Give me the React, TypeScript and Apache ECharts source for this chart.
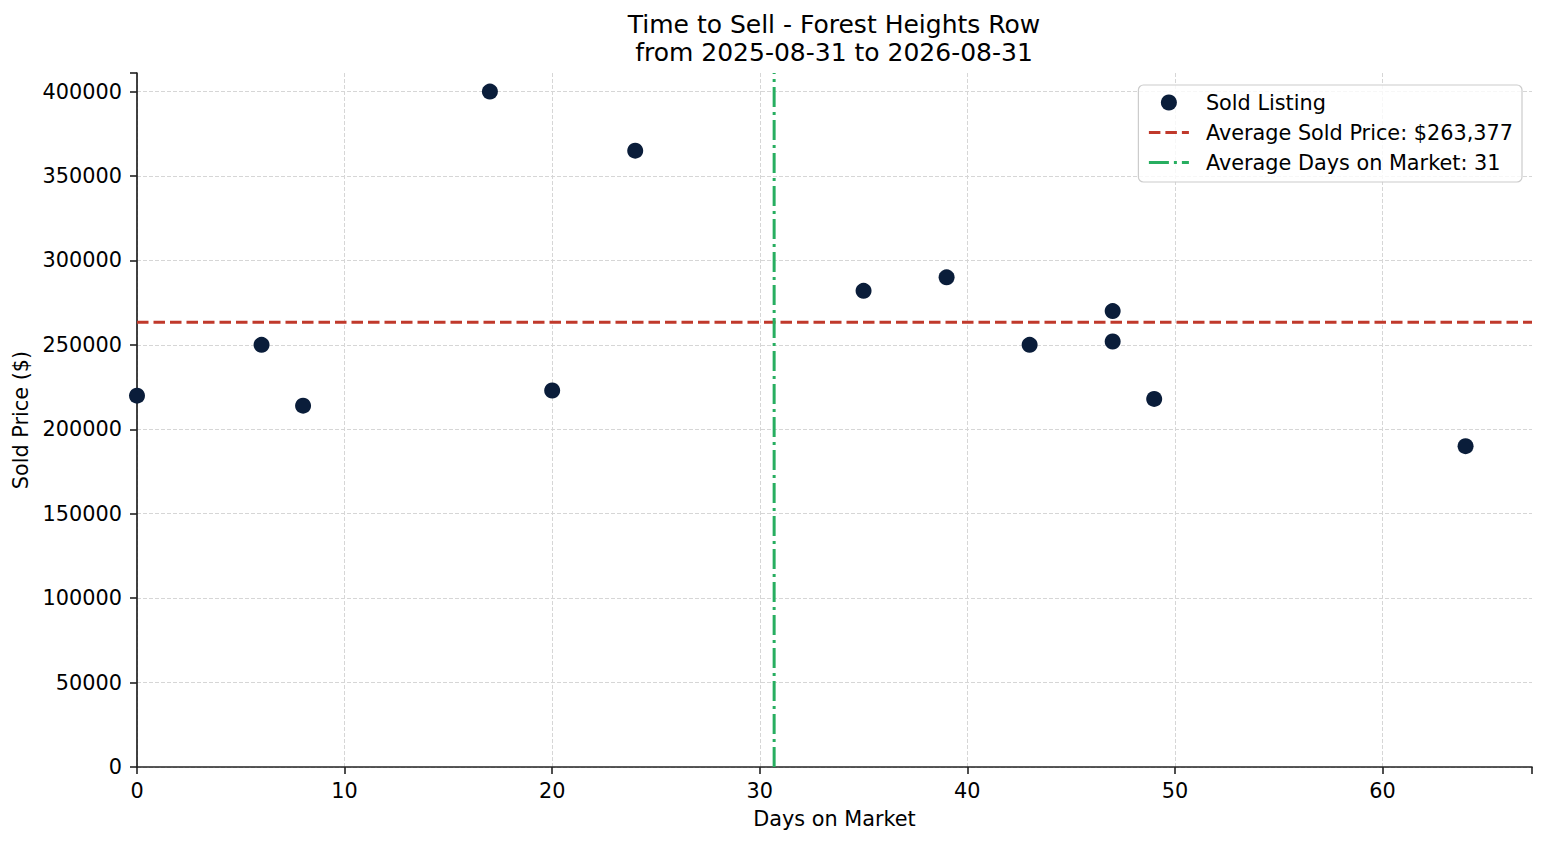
import React, { useEffect, useRef } from "react";
import * as echarts from "echarts";

// sold listings
const daysOnMarket = [0, 6, 8, 17, 20, 24, 35, 39, 43, 47, 47, 49, 64];
const soldPrices = [219900, 250000, 214000, 400000, 223000, 365000, 282000, 290000, 250000, 270000, 252000, 218000, 190000];

const xMax = 67.2;
const yMax = 411000;

const avgPrice = soldPrices.reduce((a, b) => a + b, 0) / soldPrices.length;
const avgDays = daysOnMarket.reduce((a, b) => a + b, 0) / daysOnMarket.length;

const FONT = "DejaVu Sans";
const FS = 20.8;

const soldName = "Sold Listing";
const priceName = `Average Sold Price: $${Math.round(avgPrice).toLocaleString("en-US")}`;
const daysName = `Average Days on Market: ${Math.round(avgDays)}`;

const gridLine = { show: true, showMaxLine: false, lineStyle: { color: "#d6d6d6", type: [4, 2] as number[], width: 1 } };

const App: React.FC = () => {
  const chartRef = useRef<HTMLDivElement>(null);

  useEffect(() => {
    if (!chartRef.current) return;
    const chart = echarts.init(chartRef.current, undefined, { renderer: "svg" });

    const option: echarts.EChartsOption = {
      animation: false,
      backgroundColor: "#ffffff",
      textStyle: { fontFamily: FONT },
      title: {
        text: "Time to Sell - Forest Heights Row\nfrom 2025-08-31 to 2026-08-31",
        left: 834,
        top: 10,
        padding: 0,
        textAlign: "center",
        textStyle: { fontSize: 25, fontWeight: "normal", color: "#000", lineHeight: 28, fontFamily: FONT },
      },
      grid: { left: 137, right: 15, top: 73, bottom: 78 },
      legend: {
        orient: "vertical",
        right: 25,
        top: 85,
        padding: [7, 9, 9, 9],
        itemGap: 9,
        itemWidth: 40,
        itemHeight: 16,
        borderColor: "#cccccc",
        borderWidth: 1.2,
        borderRadius: 5,
        backgroundColor: "rgba(255,255,255,0.8)",
        textStyle: { fontSize: FS, color: "#000", fontFamily: FONT, lineHeight: 21, padding: [0, 0, 0, 12] },
        data: [
          { name: soldName },
          { name: priceName, itemStyle: { opacity: 0 }, lineStyle: { width: 3 } },
          { name: daysName, itemStyle: { opacity: 0 }, lineStyle: { width: 3 } },
        ],
      },
      xAxis: {
        type: "value",
        min: 0,
        max: xMax,
        interval: 10,
        name: "Days on Market",
        nameLocation: "middle",
        nameGap: 41,
        nameTextStyle: { fontSize: FS, color: "#000", fontFamily: FONT },
        axisLine: { lineStyle: { color: "#222", width: 1.7 } },
        axisTick: { show: true, length: 7, lineStyle: { color: "#222", width: 1.6 } },
        axisLabel: {
          fontSize: FS,
          color: "#000",
          margin: 13,
          formatter: (v: number) => (v % 10 === 0 ? String(v) : ""),
        },
        splitLine: gridLine,
      },
      yAxis: {
        type: "value",
        min: 0,
        max: yMax,
        interval: 50000,
        name: "Sold Price ($)",
        nameLocation: "middle",
        nameGap: 102,
        nameTextStyle: { fontSize: FS, color: "#000", fontFamily: FONT },
        axisLine: { show: true, lineStyle: { color: "#222", width: 1.7 } },
        axisTick: { show: true, length: 7, lineStyle: { color: "#222", width: 1.6 } },
        axisLabel: {
          fontSize: FS,
          color: "#000",
          margin: 15,
          formatter: (v: number) => (v % 50000 === 0 ? String(v) : ""),
        },
        splitLine: gridLine,
      },
      series: [
        {
          name: soldName,
          type: "scatter",
          symbolSize: 16,
          itemStyle: { color: "#0a1d3a", opacity: 1 },
          data: daysOnMarket.map((d, i) => [d, soldPrices[i]]),
          z: 5,
        },
        {
          name: priceName,
          type: "line",
          symbol: "none",
          lineStyle: { color: "#c0392b", width: 3, type: [11.5, 5] },
          itemStyle: { color: "#c0392b" },
          data: [[0, avgPrice], [xMax, avgPrice]],
          z: 3,
        },
        {
          name: daysName,
          type: "line",
          symbol: "none",
          lineStyle: { color: "#27ae60", width: 3, type: [20, 5, 3, 5] },
          itemStyle: { color: "#27ae60" },
          data: [[avgDays, 0], [avgDays, yMax]],
          z: 3,
        },
      ],
    };

    chart.setOption(option);
    return () => {
      chart.dispose();
    };
  }, []);

  return (
    <div
      ref={chartRef}
      style={{ position: "fixed", left: 0, top: 0, width: "1547px", height: "845px" }}
    />
  );
};

export default App;
